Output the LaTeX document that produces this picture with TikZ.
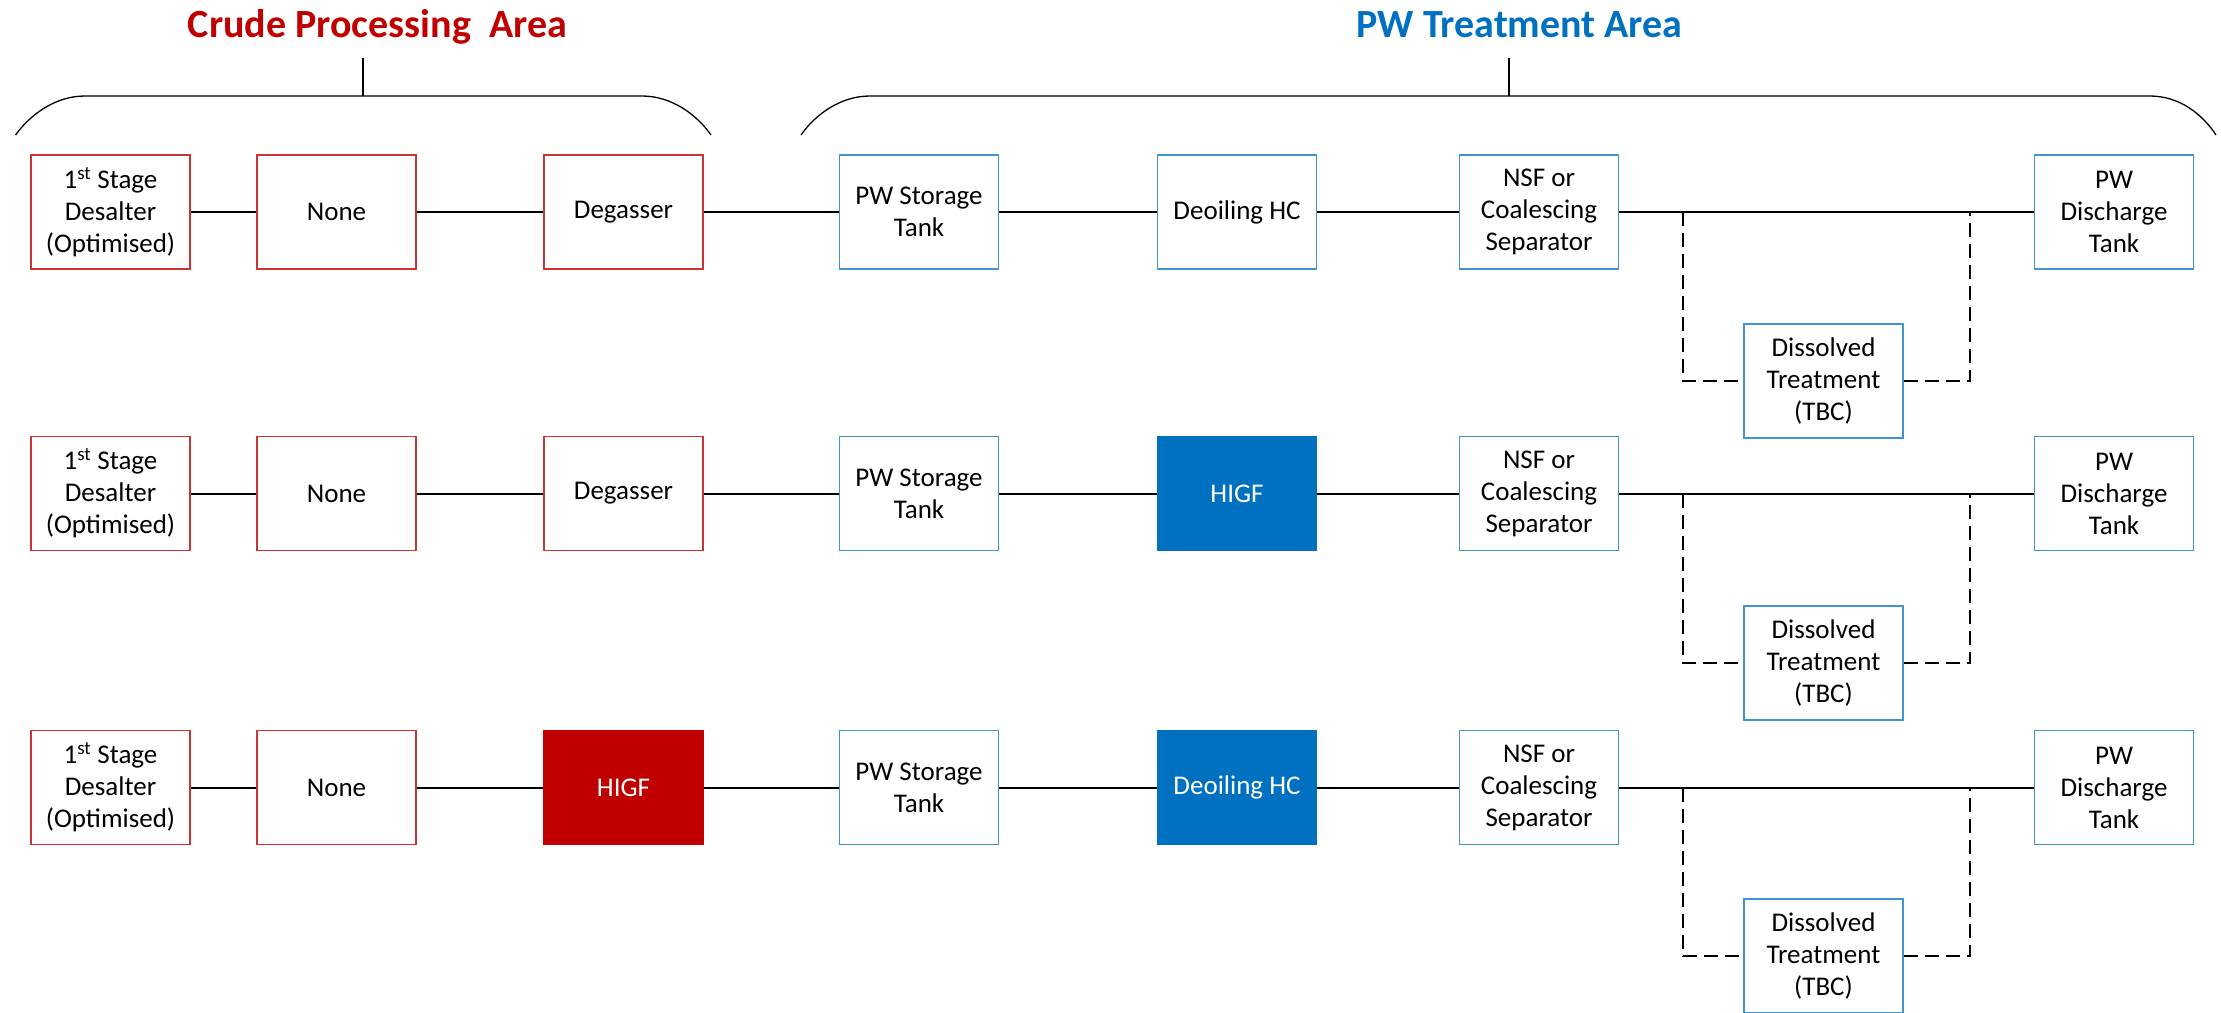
\documentclass[tikz,border=0pt]{standalone}
\usepackage{fontspec}
\setmainfont{Carlito}
\definecolor{crude}{HTML}{C00000}
\definecolor{pw}{HTML}{0070C0}
\tikzset{
  unit/.style={draw, line width=1.3pt, minimum width=159pt, minimum height=114pt,
    inner sep=0pt, align=center, font=\fontsize{27}{32}\selectfont},
  crudebox/.style={unit, draw=crude!80},
  pwbox/.style={unit, draw=pw!75},
  crudefill/.style={unit, draw=crude, fill=crude, text=white},
  pwfill/.style={unit, draw=pw, fill=pw, text=white},
  link/.style={line width=2pt},
  bypass/.style={line width=2pt, dash pattern=on 14pt off 7pt},
  brace/.style={line width=1.3pt},
  area/.style={font=\fontsize{40}{48}\selectfont\bfseries, anchor=base},
}
\newcommand{\firststage}{1\textsuperscript{st} Stage\\Desalter\\(Optimised)}
\begin{document}
\begin{tikzpicture}[x=1pt, y=-1pt]
\useasboundingbox (0,0) rectangle (2221,1012);

% area headings
\node[area, text=crude] (crudetitle) at (377.5,37) {Crude Processing~~Area};
\node[area, text=pw] (pwtitle) at (1519.5,37) {PW Treatment Area};

% grouping braces
\draw[brace] (15.5,135) .. controls (30,115) and (55,96) .. (85,96) -- (642,96)
  .. controls (672,96) and (697,115) .. (711,135);
\draw[brace] (363,58) -- (363,96);
\draw[brace] (801,135) .. controls (815,115) and (840,96) .. (870,96) -- (2150,96)
  .. controls (2180,96) and (2203,115) .. (2216,135);
\draw[brace] (1509,58) -- (1509,96);

% row 1
\node[crudebox] (r1a) at (110.5,212) {\firststage};
\node[crudebox] (r1b) at (336.5,212) {None};
\node[crudebox] (r1c) at (623.5,212) {Degasser};
\node[pwbox] (r1d) at (919,212) {PW Storage\\Tank};
\node[pwbox] (r1e) at (1237,212) {Deoiling HC};
\node[pwbox] (r1f) at (1539,212) {NSF or\\Coalescing\\Separator};
\node[pwbox] (r1g) at (1823.5,381) {Dissolved\\Treatment\\(TBC)};
\node[pwbox] (r1h) at (2114,212) {PW\\Discharge\\Tank};

% row 2
\node[crudebox] (r2a) at (110.5,493.5) {\firststage};
\node[crudebox] (r2b) at (336.5,493.5) {None};
\node[crudebox] (r2c) at (623.5,493.5) {Degasser};
\node[pwbox] (r2d) at (919,493.5) {PW Storage\\Tank};
\node[pwfill] (r2e) at (1237,493.5) {HIGF};
\node[pwbox] (r2f) at (1539,493.5) {NSF or\\Coalescing\\Separator};
\node[pwbox] (r2g) at (1823.5,663) {Dissolved\\Treatment\\(TBC)};
\node[pwbox] (r2h) at (2114,493.5) {PW\\Discharge\\Tank};

% row 3
\node[crudebox] (r3a) at (110.5,787.5) {\firststage};
\node[crudebox] (r3b) at (336.5,787.5) {None};
\node[crudefill] (r3c) at (623.5,787.5) {HIGF};
\node[pwbox] (r3d) at (919,787.5) {PW Storage\\Tank};
\node[pwfill] (r3e) at (1237,787.5) {Deoiling HC};
\node[pwbox] (r3f) at (1539,787.5) {NSF or\\Coalescing\\Separator};
\node[pwbox] (r3g) at (1823.5,956) {Dissolved\\Treatment\\(TBC)};
\node[pwbox] (r3h) at (2114,787.5) {PW\\Discharge\\Tank};

% main process lines and optional dissolved-treatment bypass
\foreach \r/\y in {1/212, 2/493.5, 3/787.5}{
  \draw[link] (r\r a) -- (r\r b) -- (r\r c) -- (r\r d) -- (r\r e) -- (r\r f) -- (r\r h);
  \coordinate (in\r) at (1683,\y);
  \coordinate (out\r) at (1970,\y);
  \draw[bypass] (in\r) |- (r\r g.west);
  \draw[bypass] (r\r g.east) -| (out\r);
}
\end{tikzpicture}
\end{document}
